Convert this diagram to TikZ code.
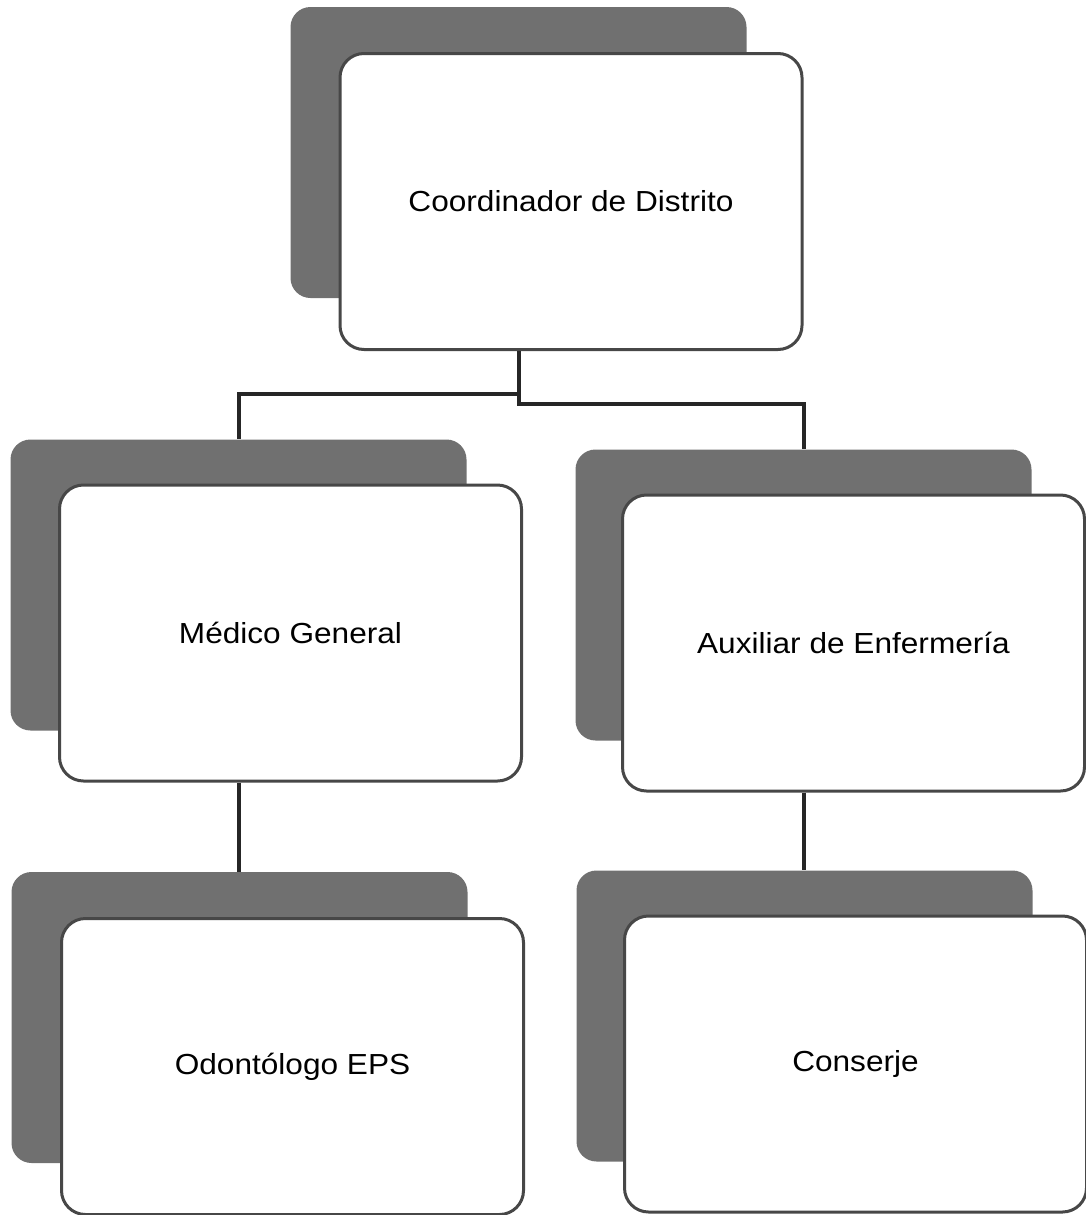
\documentclass[tikz,border=0pt]{standalone}
\usepackage{fontspec}
\setmainfont{Liberation Sans}
\begin{document}
\begin{tikzpicture}[x={(0.5pt,0)},y={(0,-0.5pt)},
  shadowbox/.style={rectangle, rounded corners=10pt, fill=black!56, draw=none,
    minimum width=228pt, minimum height=145.5pt, inner sep=0pt},
  frontbox/.style={rectangle, rounded corners=12pt, fill=white, draw=black!72,
    line width=1.5pt, minimum width=231pt, minimum height=148pt, inner sep=0pt,
    font=\fontsize{14.5pt}{17pt}\selectfont},
  conn/.style={draw=black!85, line width=2pt}]
\useasboundingbox (0,0) rectangle (1086,1215);
% shadows
\node[shadowbox] (sA) at (518.5,152.5) {};
\node[shadowbox] (sB) at (238.5,585) {};
\node[shadowbox] (sC) at (803.5,595) {};
\node[shadowbox] (sD) at (239.5,1017.5) {};
\node[shadowbox] (sE) at (804.5,1016) {};
% front boxes
\node[frontbox] (A) at (571,201.5) {\scalebox{1.09}[1]{Coordinador de Distrito}};
\node[frontbox] (B) at (290.5,633) {\scalebox{1.09}[1]{Médico General}};
\node[frontbox] (C) at (853.5,643) {\scalebox{1.09}[1]{Auxiliar de Enfermería}};
\node[frontbox] (D) at (292.5,1066.5) {\scalebox{1.09}[1]{Odontólogo EPS}};
\node[frontbox] (E) at (855.5,1064) {\scalebox{1.09}[1]{Conserje}};
% connectors
\draw[conn] (sA.center |- A.south) -- ++(0,43) -| (sB.north);
\draw[conn] (sA.center |- A.south) -- ++(0,53) -| (sC.north);
\draw[conn] (sB.center |- B.south) -- (sB.center |- sD.north);
\draw[conn] (sC.center |- C.south) -- (sC.center |- sE.north);
\end{tikzpicture}
\end{document}
